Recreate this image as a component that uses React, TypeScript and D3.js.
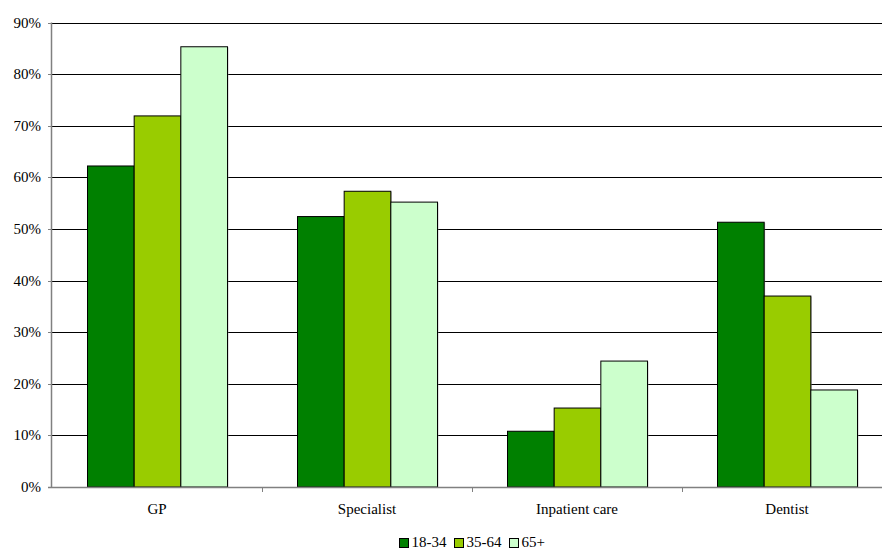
import React from "react";
import * as d3 from "d3";

const categories = ["GP", "Specialist", "Inpatient care", "Dentist"];
const seriesNames = ["18-34", "35-64", "65+"];
const s1834 = [62.2, 52.4, 10.8, 51.3];
const s3564 = [71.9, 57.3, 15.3, 37.0];
const s65 = [85.3, 55.2, 24.4, 18.8];
const seriesColors = ["#008000", "#99CC00", "#CCFFCC"];
const yTicks = [0, 10, 20, 30, 40, 50, 60, 70, 80, 90];

const FONT = "'Liberation Serif', 'Times New Roman', 'DejaVu Serif', serif";

export default function App() {
  const W = 882, H = 549;
  const left = 52, right = 892, top = 22.5, bottom = 487;
  const series = [s1834, s3564, s65];
  const x = d3.scaleBand().domain(categories).range([left, right]).paddingInner(0).paddingOuter(0);
  const y = d3.scaleLinear().domain([0, 90]).range([bottom, top]);
  const inner = d3.scaleBand().domain(seriesNames).range([0, x.bandwidth()]).paddingInner(0).paddingOuter(0.75);
  const legendX = [399, 454, 509];
  const ts: React.CSSProperties = { fontFamily: FONT, fontSize: "15px" };
  return (
    <svg width={W} height={H} style={{ position: "absolute", left: 0, top: 0, display: "block" }}>
      <rect x={0} y={0} width={W} height={H} fill="#fff" />
      {yTicks.map((t) => (
        <g key={t}>
          {t > 0 && <line x1={left} x2={right} y1={Math.round(y(t)) + 0.5} y2={Math.round(y(t)) + 0.5} stroke="#000" strokeWidth={1} />}
          <line x1={left - 4} x2={left} y1={Math.round(y(t)) + 0.5} y2={Math.round(y(t)) + 0.5} stroke="#808080" />
          <text x={41} y={y(t) + 5} style={ts} textAnchor="end" fill="#000">{t}%</text>
        </g>
      ))}
      {categories.map((c, ci) => (
        <g key={c}>
          {series.map((s, si) => {
            const bx = (x(c) as number) + (inner(seriesNames[si]) as number);
            const by = y(s[ci]);
            return (
              <g key={si}>
                <rect x={bx + 1.5} y={by + 0.5} width={inner.bandwidth()} height={bottom - by} fill="#9a9a9a" opacity={0.6} />
                <rect x={bx + 0.5} y={by} width={inner.bandwidth()} height={bottom - by} fill={seriesColors[si]} stroke="#000" strokeWidth={1} />
              </g>
            );
          })}
          <text x={(x(c) as number) + x.bandwidth() / 2} y={514} style={ts} textAnchor="middle" fill="#000">{c}</text>
        </g>
      ))}
      <line x1={left - 0.5} x2={left - 0.5} y1={top} y2={bottom} stroke="#808080" strokeWidth={1.5} />
      <line x1={left - 4} x2={right} y1={bottom + 0.5} y2={bottom + 0.5} stroke="#808080" strokeWidth={1.5} />
      {categories.map((c, ci) => ci > 0 && (
        <line key={c} x1={Math.round(x(c) as number) + 0.5} x2={Math.round(x(c) as number) + 0.5} y1={bottom} y2={bottom + 5} stroke="#808080" />
      ))}
      {seriesNames.map((n, i) => (
        <g key={n}>
          <rect x={legendX[i] + 0.5} y={538.5} width={9} height={9} fill={seriesColors[i]} stroke="#000" />
          <text x={legendX[i] + 12.5} y={547} style={ts} fill="#000">{n}</text>
        </g>
      ))}
    </svg>
  );
}
